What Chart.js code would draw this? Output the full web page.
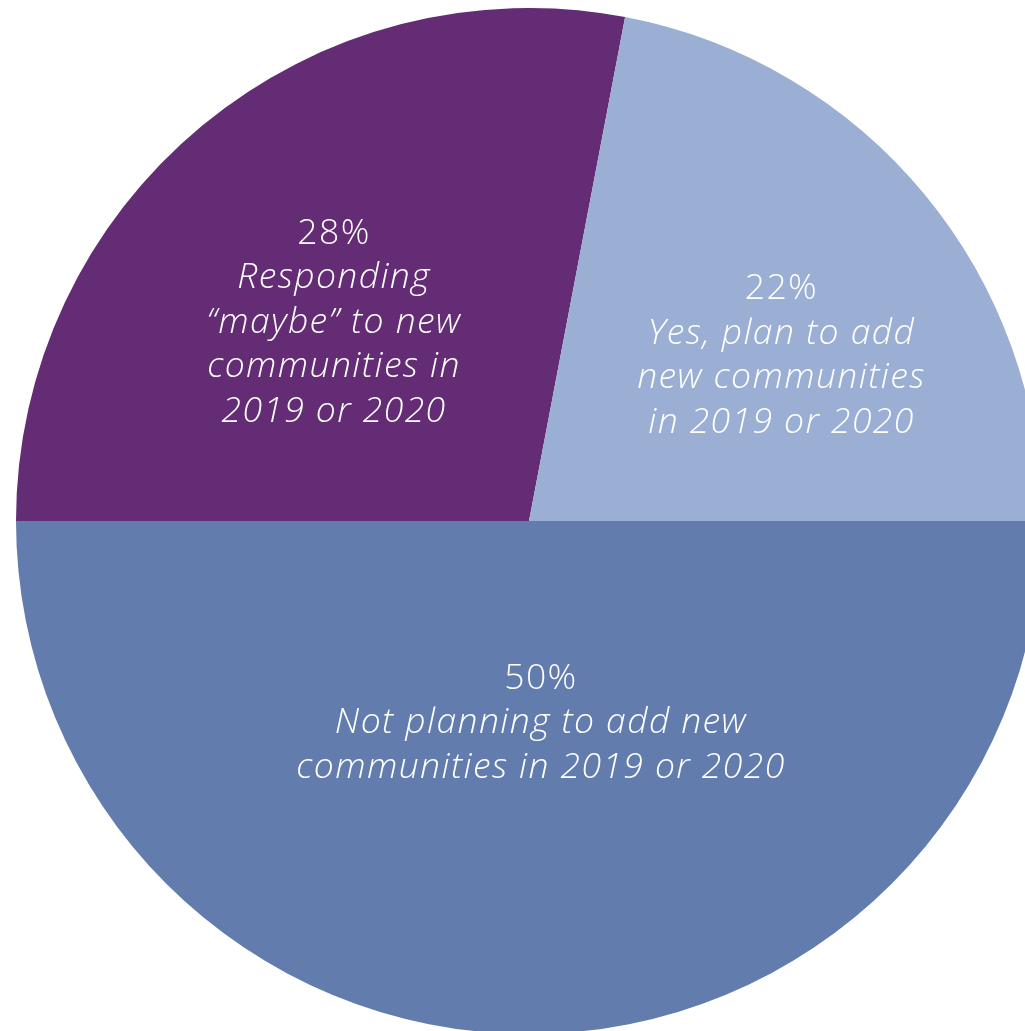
<!DOCTYPE html>
<html>
<head>
<meta charset="utf-8">
<script src="https://cdn.jsdelivr.net/npm/chart.js@4.4.1/dist/chart.umd.min.js"></script>
<style>
  html, body { margin: 0; padding: 0; background: #ffffff; overflow: hidden; width: 1025px; height: 1031px; }
  #wrap { position: absolute; left: 16px; top: 8px; width: 1026px; height: 1026px; }
</style>
</head>
<body>
<div id="wrap"><canvas id="c" width="1026" height="1026"></canvas></div>
<script>
const categories = [
  "Not planning to add new communities in 2019 or 2020",
  "Responding “maybe” to new communities in 2019 or 2020",
  "Yes, plan to add new communities in 2019 or 2020"
];
const values = [50, 28, 22];
const colors = ["#627DAD", "#642C74", "#9BAFD4"];
const labelLines = [
  ["Not planning to add new", "communities in 2019 or 2020"],
  ["Responding", "“maybe” to new", "communities in", "2019 or 2020"],
  ["Yes, plan to add", "new communities", "in 2019 or 2020"]
];
// label placement: fraction of radius, angle shift (rad)
const labelRadius = [0.395, 0.542, 0.588];
const labelAngleShift = [-0.059, -0.086, 0.112];

const FONT = "'Open Sans', sans-serif";

const labelPlugin = {
  id: 'sliceLabels',
  afterDatasetsDraw(chart) {
    const ctx = chart.ctx;
    const meta = chart.getDatasetMeta(0);
    meta.data.forEach((arc, i) => {
      const p = arc.getProps(['x', 'y', 'startAngle', 'endAngle', 'outerRadius'], true);
      const mid = (p.startAngle + p.endAngle) / 2 + labelAngleShift[i];
      const r = p.outerRadius * labelRadius[i];
      const cx = p.x + Math.cos(mid) * r;
      const cy = p.y + Math.sin(mid) * r;
      const lines = [values[i] + "%"].concat(labelLines[i]);
      const lh = 44.5;
      const top = cy - (lines.length - 1) * lh / 2;
      ctx.save();
      ctx.fillStyle = "#ffffff";
      ctx.textAlign = "center";
      ctx.textBaseline = "middle";
      try { ctx.letterSpacing = "1.4px"; } catch (e) {}
      lines.forEach((t, k) => {
        ctx.font = (k === 0 ? "300 " : "italic 300 ") + "35.5px " + FONT;
        ctx.fillText(t, cx, top + k * lh);
      });
      ctx.restore();
    });
  }
};

new Chart(document.getElementById('c'), {
  type: 'pie',
  data: {
    labels: categories,
    datasets: [{
      data: values,
      backgroundColor: colors,
      borderWidth: 0,
      hoverOffset: 0
    }]
  },
  options: {
    responsive: false,
    animation: false,
    rotation: 90,
    layout: { padding: 0 },
    plugins: {
      legend: { display: false },
      tooltip: { enabled: false }
    }
  },
  plugins: [labelPlugin]
});
</script>
</body>
</html>
